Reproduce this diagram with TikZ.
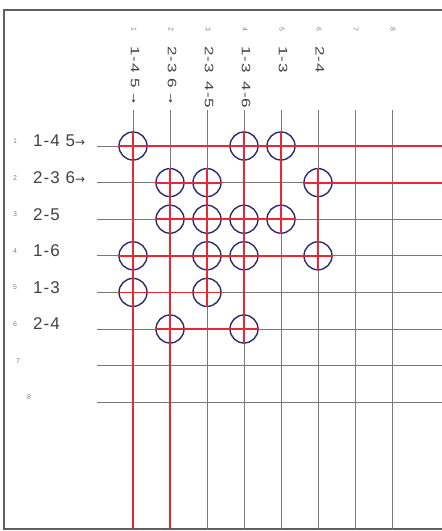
\documentclass[tikz,border=0pt]{standalone}
\usepackage{fontspec}
\usepackage{graphicx}
\setmainfont{Liberation Sans}
\newfontfamily\labelfont{Liberation Sans}[LetterSpace=6]
\newfontfamily\arrowfont{DejaVu Sans}
\newcommand{\rarr}{{\arrowfont\fontsize{12}{12}\selectfont →}}
\definecolor{gridgray}{RGB}{120,120,120}
\definecolor{linkred}{RGB}{230,40,55}
\definecolor{ringblue}{RGB}{42,44,112}
\definecolor{labelgray}{RGB}{65,65,65}
\tikzset{
  frame/.style={draw=gridgray!80!black, line width=1.3pt},
  gridline/.style={draw=gridgray, line width=0.9pt},
  link/.style={draw=linkred, line width=1.8pt},
  ring/.style={circle, draw=ringblue, line width=1.4pt, minimum size=28pt, inner sep=0pt},
  idx/.style={font=\fontsize{7}{7}\selectfont, text=gray},
  rowlabel/.style={anchor=west, font=\labelfont\fontsize{17}{17}\selectfont},
  collabel/.style={rotate=-90, anchor=west, font=\labelfont\fontsize{17}{17}\selectfont}
}
\begin{document}
\begin{tikzpicture}[x=1pt, y=-1pt, every node/.style={inner sep=0pt, text=labelgray}]
  \useasboundingbox (0,0) rectangle (442,531);

  % frame, open on the right
  \coordinate (ftr) at (442,10);
  \coordinate (ftl) at (4,10);
  \coordinate (fbl) at (4,529);
  \coordinate (fbr) at (442,529);
  \draw[frame] (ftr) -- (ftl) -- (fbl) -- (fbr);

  % grid points
  \foreach \r in {1,...,8}{
    \coordinate (h-\r) at (97,{146+36.6*(\r-1)});
    \coordinate (e-\r) at (442,{146+36.6*(\r-1)});
    \foreach \c in {1,...,8}
      \coordinate (p-\r-\c) at ({133+37*(\c-1)},{146+36.6*(\r-1)});
  }
  \foreach \c in {1,...,8}{
    \coordinate (t-\c) at ({133+37*(\c-1)},110);
    \coordinate (b-\c) at ({133+37*(\c-1)},529);
  }
  \foreach \i in {1,...,8}{
    \draw[gridline] (h-\i) -- (e-\i);
    \draw[gridline] (t-\i) -- (b-\i);
  }

  % row labels
  \foreach \r/\txt in {1/{1-4 5\rarr}, 2/{2-3 6\rarr}, 3/{2-5}, 4/{1-6}, 5/{1-3}, 6/{2-4}}
    \node[rowlabel] (row-\r) at (33,{141+36.6*(\r-1)}) {\txt};
  \foreach \r/\xx in {1/15, 2/15, 3/15, 4/15, 5/15, 6/15, 7/18, 8/29}
    \node[idx] (ri-\r) at (\xx,{141+36.6*(\r-1)}) {\r};

  % column labels
  \foreach \c/\txt in {1/{1-4\hspace{6pt}5\hspace{5pt}\rarr}, 2/{2-3\hspace{6pt}6\hspace{5pt}\rarr}, 3/{2-3\hspace{9pt}4-5}, 4/{1-3\hspace{9pt}4-6}, 5/{1-3}, 6/{2-4}}
    \node[collabel] (col-\c) at ({135+37*(\c-1)},46) {\scalebox{1}[0.72]{\txt}};
  \foreach \c in {1,...,8}
    \node[idx, rotate=-90] (ci-\c) at ({134+37*(\c-1)},29) {\c};

  % red links
  \draw[link] (p-1-1) -- (e-1);
  \draw[link] (p-1-1) -- (b-1);
  \draw[link] (p-2-2) -- (p-2-3);
  \draw[link] (p-2-6) -- (e-2);
  \draw[link] (p-2-2) -- (b-2);
  \draw[link] (p-3-2) -- (p-3-5);
  \draw[link] (p-2-3) -- (p-5-3);
  \draw[link] (p-1-4) -- (p-6-4);
  \draw[link] (p-1-5) -- (p-3-5);
  \draw[link] (p-2-6) -- (p-4-6);
  \draw[link] (p-4-1) -- (p-4-6);
  \draw[link] (p-5-1) -- (p-5-3);
  \draw[link] (p-6-2) -- (p-6-4);

  % rings
  \foreach \r/\c in {1/1, 1/4, 1/5, 2/2, 2/3, 2/6, 3/2, 3/3, 3/4, 3/5,
                     4/1, 4/3, 4/4, 4/6, 5/1, 5/3, 6/2, 6/4}{
    \node[ring] (ring-\r-\c) at (p-\r-\c) {};
    \draw[link] (ring-\r-\c.west) -- (ring-\r-\c.east);
    \draw[link] (ring-\r-\c.north) -- (ring-\r-\c.south);
  }
\end{tikzpicture}
\end{document}
